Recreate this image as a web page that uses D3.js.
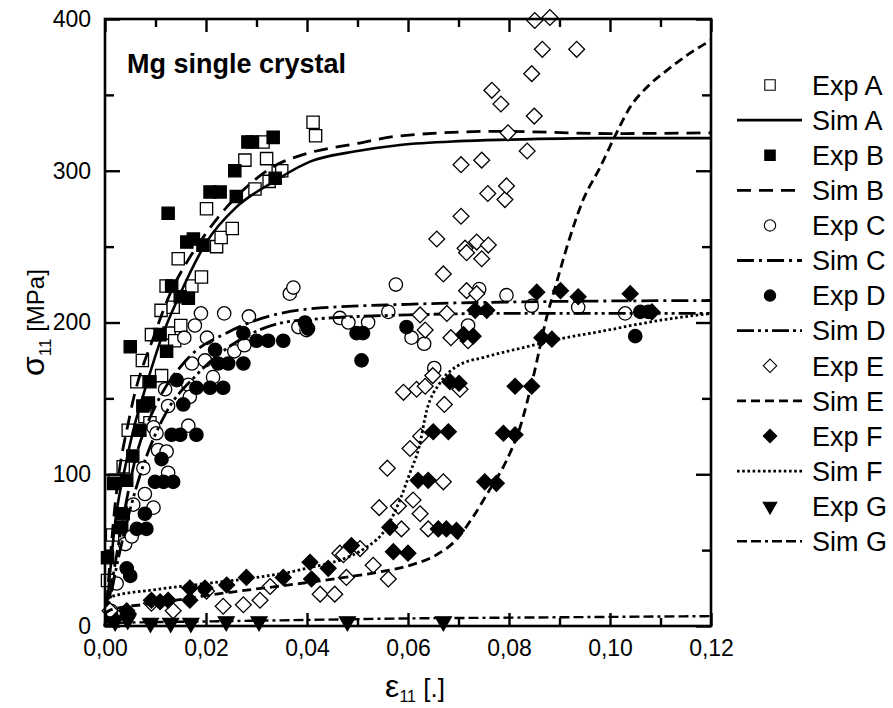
<!DOCTYPE html>
<html>
<head>
<meta charset="utf-8">
<script src="https://cdn.jsdelivr.net/npm/d3@7"></script>
<style>
  html, body { margin: 0; padding: 0; background: #fff; }
  svg { display: block; font-family: "Liberation Sans", Arial, sans-serif; }
</style>
</head>
<body>
<svg id="chart" width="893" height="708"></svg>
<script>
// Strain (ε11) / stress (σ11, MPa) pairs for each loading orientation.
const expA = [[0.0005,30],[0.0015,60],[0.002,96],[0.0036,105],[0.0046,129],[0.0063,161],[0.0074,175],[0.0079,138],[0.0089,134],[0.0092,192],[0.0111,208],[0.0112,165],[0.0121,224],[0.0127,193],[0.0135,210],[0.0138,188],[0.0145,242],[0.015,198],[0.0172,224],[0.0191,230],[0.0201,275],[0.0221,250],[0.023,256],[0.0252,262],[0.0277,307],[0.0297,288],[0.0313,319],[0.032,308],[0.0325,293],[0.0343,300],[0.035,300],[0.0412,332],[0.0417,323]];
const simA = [[0,0],[0.001,35],[0.002,68],[0.004,105],[0.0056,129],[0.0083,160],[0.0112,190],[0.0149,219],[0.0201,253],[0.026,276],[0.033,292],[0.0406,306],[0.05,313],[0.0584,317],[0.07,319.5],[0.08,320.5],[0.098,321.5],[0.12,321.5]];

const expB = [[0.0005,45],[0.0017,94],[0.0033,65],[0.0036,74],[0.0043,96],[0.005,184],[0.0055,112],[0.0069,129],[0.0075,145],[0.0086,147],[0.0089,161],[0.0109,192],[0.0122,181],[0.0125,272],[0.0132,224],[0.0149,217],[0.0165,216],[0.0162,253],[0.0175,255],[0.0194,251],[0.0208,286],[0.0228,286],[0.026,283],[0.0257,300],[0.0283,319],[0.0292,319],[0.0333,322],[0.0337,295]];
const simB = [[0,0],[0.002,80],[0.005,140],[0.0099,193],[0.0129,219],[0.0168,243],[0.0205,261],[0.0241,276],[0.0293,293],[0.034,304],[0.0386,310],[0.05,318],[0.0584,323],[0.078,326],[0.1,324.5],[0.12,325]];

const expC = [[0.0012,10],[0.0023,28],[0.004,54],[0.0053,59],[0.0056,80],[0.0076,104],[0.0079,87],[0.0096,78],[0.0096,131],[0.0102,127],[0.0105,116],[0.0119,156],[0.0122,115],[0.0125,145],[0.0125,101],[0.0157,190],[0.0165,132],[0.0165,159],[0.0168,151],[0.0172,173],[0.0178,198],[0.019,206],[0.0198,175],[0.0202,190],[0.0214,164],[0.0236,206],[0.0256,181],[0.0276,185],[0.0285,204],[0.0366,219],[0.0373,223],[0.0383,197],[0.0399,195],[0.0465,203],[0.0482,200],[0.0521,200],[0.0561,207],[0.0576,225],[0.0607,190],[0.0632,186],[0.0652,170],[0.0719,198],[0.0741,222],[0.0795,218],[0.0845,211],[0.0937,210],[0.103,206]];
const simC = [[0,0],[0.003,60],[0.006,110],[0.01,145],[0.0155,173],[0.0182,182],[0.0234,192],[0.0287,200],[0.0406,209],[0.06,212],[0.08,213.5],[0.12,214.5]];

const expD = [[0.0015,5],[0.0043,38],[0.005,33],[0.0063,64],[0.0079,74],[0.0082,64],[0.0099,95],[0.0112,110],[0.0116,95],[0.0132,126],[0.0135,95],[0.0142,162],[0.0149,126],[0.0155,146],[0.0181,126],[0.0181,157],[0.0208,157],[0.0218,182],[0.0224,173],[0.0234,157],[0.0244,173],[0.0274,173],[0.0274,193],[0.03,188],[0.0323,188],[0.0353,188],[0.0396,200],[0.0402,196],[0.0498,193],[0.0511,193],[0.0508,175],[0.0597,197],[0.105,191],[0.106,207],[0.1076,207]];
const simD = [[0,0],[0.003,50],[0.007,100],[0.012,140],[0.018,165],[0.025,185],[0.034,199],[0.0406,202],[0.06,205],[0.08,206],[0.1,206],[0.12,206]];

const expE = [[0.001,10],[0.0092,15],[0.0135,10],[0.0201,23],[0.0234,13],[0.0274,14],[0.0307,17],[0.0327,26],[0.0426,21],[0.0455,21],[0.0465,48],[0.0472,47],[0.0478,32],[0.0505,51],[0.0531,40],[0.0543,78],[0.0559,104],[0.0561,31],[0.0581,79],[0.0587,64],[0.0591,154],[0.0604,117],[0.061,83],[0.0617,156],[0.0624,74],[0.0624,205],[0.0625,125],[0.0634,158],[0.0634,195],[0.064,64],[0.0649,165],[0.0657,255],[0.067,95],[0.067,232],[0.0672,146],[0.0677,206],[0.0685,190],[0.0703,156],[0.0705,270],[0.0705,304],[0.0713,249],[0.0716,246],[0.0716,221],[0.0719,188],[0.0736,219],[0.0736,253],[0.0746,242],[0.0746,307],[0.0758,285],[0.0759,251],[0.0766,353],[0.0784,344],[0.0792,281],[0.0795,290],[0.0798,325],[0.0836,313],[0.0845,364],[0.085,336],[0.0851,399],[0.0866,380],[0.0881,401],[0.0934,380]];
const simE = [[0,8],[0.001,10.5],[0.01,15],[0.0234,21.6],[0.0386,28],[0.0485,32.5],[0.055,36],[0.0604,40],[0.0657,47],[0.0696,57],[0.0729,72],[0.0762,90],[0.0795,109],[0.0822,131],[0.0848,164],[0.0875,204],[0.0894,226],[0.0914,249],[0.0947,281],[0.098,302],[0.1013,325],[0.104,342],[0.1073,355],[0.1112,366],[0.1152,376],[0.12,386]];

const expF = [[0.0043,10],[0.0046,8],[0.0092,17],[0.0109,16],[0.0125,17],[0.0168,17],[0.0168,25],[0.0198,25],[0.0241,27],[0.028,32],[0.0353,32],[0.0406,42],[0.0409,31],[0.0442,38],[0.0488,53],[0.0564,65],[0.0571,49],[0.06,48],[0.062,96],[0.064,96],[0.065,128],[0.066,64],[0.0676,64],[0.068,128],[0.0683,161],[0.0696,63],[0.0701,160],[0.071,192],[0.0729,191],[0.0733,208],[0.0752,95],[0.0756,208],[0.0775,94],[0.0789,127],[0.0812,126],[0.0812,158],[0.0845,158],[0.0855,220],[0.0865,190],[0.0885,189],[0.0902,221],[0.0937,217],[0.104,219],[0.1083,207]];
const simF = [[0,15],[0.001,19],[0.01,24],[0.02,28],[0.03,32],[0.0386,37],[0.0518,52],[0.0558,65],[0.0584,83],[0.0604,101],[0.0622,118],[0.0637,142],[0.0663,160],[0.0696,171],[0.0756,177.5],[0.0835,184],[0.0905,189.5],[0.098,194],[0.11,201.5],[0.12,206]];

const expG = [[0.002,3],[0.0045,4],[0.009,2],[0.013,2],[0.017,2],[0.024,3],[0.0305,3],[0.048,3],[0.067,3]];
const simG = [[0,0],[0.002,2],[0.02,3],[0.04,4],[0.06,5],[0.08,5.5],[0.1,6],[0.12,6.5]];

const xMajorTicks = [0, 0.02, 0.04, 0.06, 0.08, 0.10, 0.12];
const xMinorTicks = [0.01, 0.03, 0.05, 0.07, 0.09, 0.11];
const yMajorTicks = [0, 100, 200, 300, 400];
const yMinorTicks = [50, 150, 250, 350];

const legendLabels = ["Exp A","Sim A","Exp B","Sim B","Exp C","Sim C","Exp D","Sim D","Exp E","Sim E","Exp F","Sim F","Exp G","Sim G"];

// ---- layout ----
const svg = d3.select("#chart");
const L = 105, R = 711, T = 19, B = 626;
const x = d3.scaleLinear().domain([0, 0.12]).range([L, R]);
const y = d3.scaleLinear().domain([0, 400]).range([B, T]);

const comma = d3.formatLocale({decimal: ",", thousands: ".", grouping: [3], currency: ["", ""]}).format(".2f");

// marker styles
const markers = {
  sqOpen:   {type: d3.symbolSquare,   size: 150, fill: "#fff", rot: 0},
  sqFill:   {type: d3.symbolSquare,   size: 150, fill: "#000", rot: 0},
  cirOpen:  {type: d3.symbolCircle,   size: 140, fill: "#fff", rot: 0},
  cirFill:  {type: d3.symbolCircle,   size: 140, fill: "#000", rot: 0},
  diaOpen:  {type: d3.symbolSquare,   size: 125, fill: "#fff", rot: 45},
  diaFill:  {type: d3.symbolSquare,   size: 125, fill: "#000", rot: 45},
  triDown:  {type: d3.symbolTriangle, size: 110, fill: "#000", rot: 180}
};

const lineStyles = {
  solid:   {dash: null,                 w: 2.6},
  dashB:   {dash: "14,8",               w: 2.8},
  dashDot: {dash: "17,5,3,5",           w: 2.8},
  dashDD:  {dash: "17,4,3,4,3,4",       w: 2.8},
  dashE:   {dash: "9,5",                w: 2.8},
  dotted:  {dash: "2.6,2.6",            w: 2.8},
  dashG:   {dash: "10,4,10,4,3,4",      w: 2.4}
};

const series = [
  {kind: "exp", data: expA, m: "sqOpen"},
  {kind: "sim", data: simA, s: "solid"},
  {kind: "exp", data: expB, m: "sqFill"},
  {kind: "sim", data: simB, s: "dashB"},
  {kind: "exp", data: expC, m: "cirOpen"},
  {kind: "sim", data: simC, s: "dashDot"},
  {kind: "exp", data: expD, m: "cirFill"},
  {kind: "sim", data: simD, s: "dashDD"},
  {kind: "exp", data: expE, m: "diaOpen"},
  {kind: "sim", data: simE, s: "dashE"},
  {kind: "exp", data: expF, m: "diaFill"},
  {kind: "sim", data: simF, s: "dotted"},
  {kind: "exp", data: expG, m: "triDown"},
  {kind: "sim", data: simG, s: "dashG"}
];

const plot = svg.append("g");
const line = d3.line().x(d => x(d[0])).y(d => y(d[1])).curve(d3.curveMonotoneX);

function drawMarker(sel, key) {
  const mk = markers[key];
  sel.attr("d", d3.symbol().type(mk.type).size(mk.size)())
     .attr("fill", mk.fill)
     .attr("stroke", "#000")
     .attr("stroke-width", 1.3);
}

series.forEach(sr => {
  if (sr.kind === "exp") {
    const mk = markers[sr.m];
    plot.append("g").selectAll("path").data(sr.data).join("path")
      .call(drawMarker, sr.m)
      .attr("transform", d => `translate(${x(d[0])},${y(d[1])}) rotate(${mk.rot})`);
  } else {
    const st = lineStyles[sr.s];
    plot.append("path").datum(sr.data)
      .attr("d", line)
      .attr("fill", "none")
      .attr("stroke", "#000")
      .attr("stroke-width", st.w)
      .attr("stroke-dasharray", st.dash);
  }
});

// ---- axes (ticks pointing inward on all four sides) ----
const axisFont = 23;
function styleAxis(g) {
  g.select(".domain").remove();
  g.selectAll(".tick line").attr("stroke", "#000").attr("stroke-width", 2.4);
  g.selectAll("text").attr("font-size", axisFont).attr("fill", "#000")
    .attr("font-family", "'Liberation Sans', Arial, sans-serif");
}

svg.append("g").attr("transform", `translate(0,${B})`)
  .call(d3.axisBottom(x).tickValues(xMajorTicks).tickFormat(comma).tickSize(-13).tickPadding(14))
  .call(styleAxis);
svg.append("g").attr("transform", `translate(0,${B})`)
  .call(d3.axisBottom(x).tickValues(xMinorTicks).tickFormat("").tickSize(-8))
  .call(styleAxis);
svg.append("g").attr("transform", `translate(0,${T})`)
  .call(d3.axisTop(x).tickValues(xMajorTicks).tickFormat("").tickSize(-13))
  .call(styleAxis);
svg.append("g").attr("transform", `translate(0,${T})`)
  .call(d3.axisTop(x).tickValues(xMinorTicks).tickFormat("").tickSize(-8))
  .call(styleAxis);

svg.append("g").attr("transform", `translate(${L},0)`)
  .call(d3.axisLeft(y).tickValues(yMajorTicks).tickFormat(d3.format("d")).tickSize(-15).tickPadding(14))
  .call(styleAxis);
svg.append("g").attr("transform", `translate(${L},0)`)
  .call(d3.axisLeft(y).tickValues(yMinorTicks).tickFormat("").tickSize(-9))
  .call(styleAxis);
svg.append("g").attr("transform", `translate(${R},0)`)
  .call(d3.axisRight(y).tickValues(yMajorTicks).tickFormat("").tickSize(-15))
  .call(styleAxis);
svg.append("g").attr("transform", `translate(${R},0)`)
  .call(d3.axisRight(y).tickValues(yMinorTicks).tickFormat("").tickSize(-9))
  .call(styleAxis);

// frame
svg.append("rect").attr("x", L).attr("y", T).attr("width", R - L).attr("height", B - T)
  .attr("fill", "none").attr("stroke", "#000").attr("stroke-width", 2.6);

// in-plot title
svg.append("text").attr("x", 127).attr("y", 73)
  .attr("font-size", 27).attr("font-weight", "bold").attr("fill", "#000")
  .text("Mg single crystal");

// axis titles
const xt = svg.append("text").attr("x", 415).attr("y", 697).attr("text-anchor", "middle").attr("fill", "#000");
xt.append("tspan").attr("font-size", 32).text("ε");
xt.append("tspan").attr("font-size", 16).attr("dy", 5).text("11");
xt.append("tspan").attr("font-size", 26).attr("dy", -5).text(" [.]");

const yt = svg.append("text").attr("transform", `translate(44,${(T + B) / 2}) rotate(-90)`)
  .attr("text-anchor", "middle").attr("fill", "#000");
yt.append("tspan").attr("font-size", 32).text("σ");
yt.append("tspan").attr("font-size", 17).attr("dy", 7).text("11");
yt.append("tspan").attr("font-size", 24).attr("dy", -7).text(" [MPa]");

// ---- legend ----
const lg = svg.append("g");
const rowY0 = 85, rowStep = 35.1, symX = 770, lineX0 = 737, lineX1 = 802, textX = 812;
series.forEach((sr, i) => {
  const cy = rowY0 + i * rowStep;
  if (sr.kind === "exp") {
    const mk = markers[sr.m];
    lg.append("path").call(drawMarker, sr.m)
      .attr("transform", `translate(${symX},${cy}) rotate(${mk.rot}) scale(0.85)`);
  } else {
    const st = lineStyles[sr.s];
    lg.append("line").attr("x1", lineX0).attr("x2", lineX1).attr("y1", cy).attr("y2", cy)
      .attr("stroke", "#000").attr("stroke-width", st.w).attr("stroke-dasharray", st.dash);
  }
  lg.append("text").attr("x", textX).attr("y", cy).attr("dy", "0.36em")
    .attr("font-size", 27).attr("fill", "#000").text(legendLabels[i]);
});
</script>
</body>
</html>
